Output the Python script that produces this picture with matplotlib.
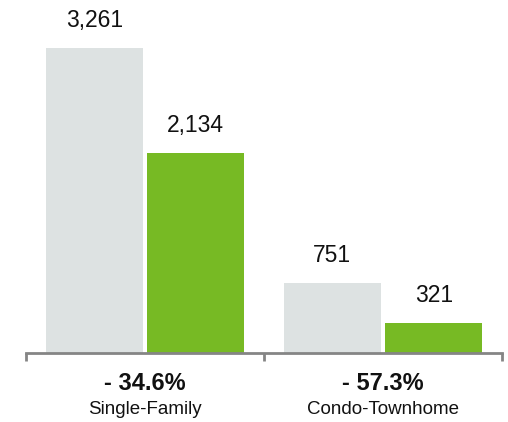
import matplotlib.pyplot as plt
import numpy as np

plt.rcParams['font.family'] = ['Liberation Sans', 'DejaVu Sans']

categories = ["Single-Family", "Condo-Townhome"]
prior_values = [3261, 751]
current_values = [2134, 321]
changes = ["- 34.6%", "- 57.3%"]

gray = "#dde2e2"
green = "#77ba24"
axis_gray = "#858585"

fig = plt.figure(figsize=(5.08, 4.22), dpi=100)
ax = fig.add_axes([26 / 508, 69 / 422, 476 / 508, 353 / 422])

x = np.arange(len(categories))
width = 0.405
offset = 0.213

bars_prior = ax.bar(x - offset, prior_values, width, color=gray)
bars_current = ax.bar(x + offset, current_values, width, color=green)

# value labels above each bar
for bars, vals in [(bars_prior, prior_values), (bars_current, current_values)]:
    for b, v in zip(bars, vals):
        ax.annotate(f"{v:,}", (b.get_x() + b.get_width() / 2, v),
                    xytext=(0, 11.5), textcoords="offset points",
                    ha="center", va="bottom", fontsize=16.5, color="#111111")

ax.set_xlim(-0.5, len(categories) - 0.5)
ax.set_ylim(0, 3774)

for side in ["top", "right", "left"]:
    ax.spines[side].set_visible(False)
ax.spines["bottom"].set_color(axis_gray)
ax.spines["bottom"].set_linewidth(2)

ax.set_yticks([])
ax.set_xticks(np.arange(len(categories) + 1) - 0.5)
ax.set_xticklabels([])
ax.tick_params(axis="x", length=6, width=2, color=axis_gray, direction="out")

# change percentage and category name under each group
for i, (cat, chg) in enumerate(zip(categories, changes)):
    ax.annotate(chg, (i, 0), xytext=(0, -21.6), textcoords="offset points",
                ha="center", va="center", fontsize=17, fontweight="bold",
                color="#111111", annotation_clip=False)
    ax.annotate(cat, (i, 0), xytext=(0, -41), textcoords="offset points",
                ha="center", va="center", fontsize=13.5,
                color="#111111", annotation_clip=False)

fig.savefig("out.png", dpi=100)
